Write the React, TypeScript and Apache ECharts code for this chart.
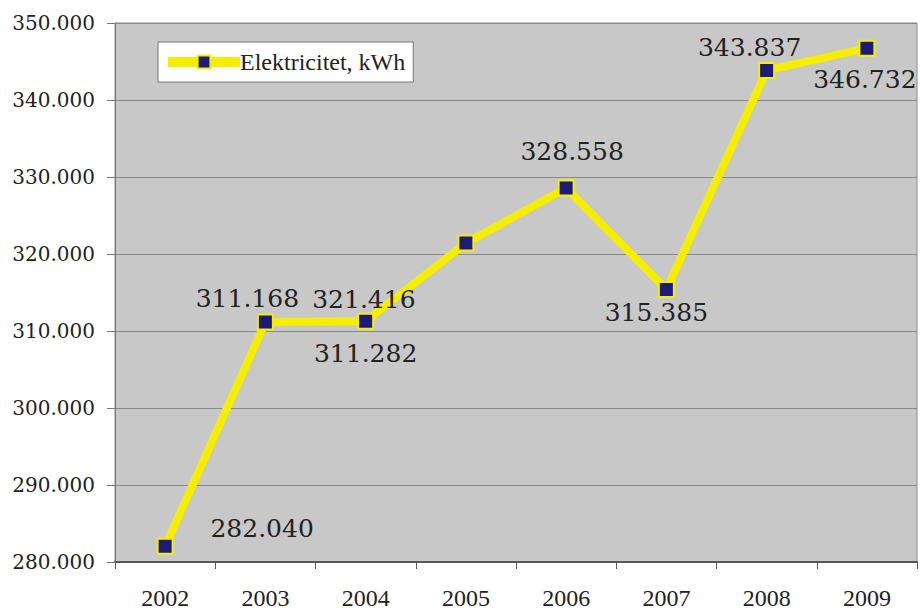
import React, { useEffect, useRef } from "react";
import * as echarts from "echarts";

const years = ["2002", "2003", "2004", "2005", "2006", "2007", "2008", "2009"];
const electricity = [282.04, 311.168, 311.282, 321.416, 328.558, 315.385, 343.837, 346.732];
const seriesName = "Elektricitet, kWh";
// label offsets (style, px)
const labelOffsets: [number, number][] = [
  [97, -18], [-18, -24], [0, 32], [-102, 56], [6, -37], [-10, 23], [-17, -23], [-2, 31],
];

export default function App() {
  const ref = useRef<HTMLDivElement>(null);
  useEffect(() => {
    if (!ref.current) return;
    const chart = echarts.init(ref.current, undefined, { renderer: "svg" });
    const font = "Liberation Serif";
    const numFont = "DejaVu Serif";
    chart.setOption({
      animation: false,
      textStyle: { fontFamily: font },
      grid: { left: 115, right: 3, top: 23, bottom: 49, show: true, backgroundColor: "#c8c8c8", borderColor: "#8a8a8a", borderWidth: 1 },
      legend: {
        data: [seriesName],
        left: 158,
        top: 42,
        backgroundColor: "#ffffff",
        borderColor: "#777",
        borderWidth: 1,
        borderRadius: 0,
        padding: [8, 8, 8, 5],
        itemWidth: 72,
        itemHeight: 16,
        itemGap: 0,
        lineStyle: { width: 10, color: "#f5ee00" },
        textStyle: { fontFamily: font, fontSize: 24, color: "#222", padding: [0, 0, 0, -5] },
      },
      xAxis: {
        type: "category",
        data: years,
        boundaryGap: true,
        axisLine: { lineStyle: { color: "#555", width: 2 } },
        axisTick: { show: true, length: 7, lineStyle: { color: "#555" } },
        axisLabel: { fontFamily: font, fontSize: 24, color: "#222", margin: 24 },
        splitLine: { show: false },
      },
      yAxis: {
        type: "value",
        min: 280,
        max: 350,
        interval: 10,
        axisLine: { show: true, lineStyle: { color: "#777", width: 1 } },
        axisTick: { show: true, length: 8, lineStyle: { color: "#777" } },
        axisLabel: {
          fontFamily: numFont,
          fontSize: 20,
          color: "#222",
          margin: 20,
          formatter: (v: number) => v.toFixed(3),
        },
        splitLine: { lineStyle: { color: "#8a8a8a", width: 1 } },
      },
      series: [
        {
          name: seriesName,
          type: "line",
          data: electricity.map((v, i) => ({
            value: v,
            label: { offset: labelOffsets[i] },
          })),
          lineStyle: { color: "#f5ee00", width: 8 },
          itemStyle: { color: "#1c1c78", borderColor: "#f5ee00", borderWidth: 2 },
          symbol: "rect",
          symbolSize: 15,
          label: {
            show: true,
            position: "inside",
            fontFamily: numFont,
            fontSize: 25,
            color: "#222",
            formatter: (p: any) => Number(p.value).toFixed(3),
          },
          emphasis: { disabled: true },
        },
      ],
    });
    return () => chart.dispose();
  }, []);
  return <div ref={ref} style={{ width: 920, height: 611, position: "absolute", left: 0, top: 0 }} />;
}
